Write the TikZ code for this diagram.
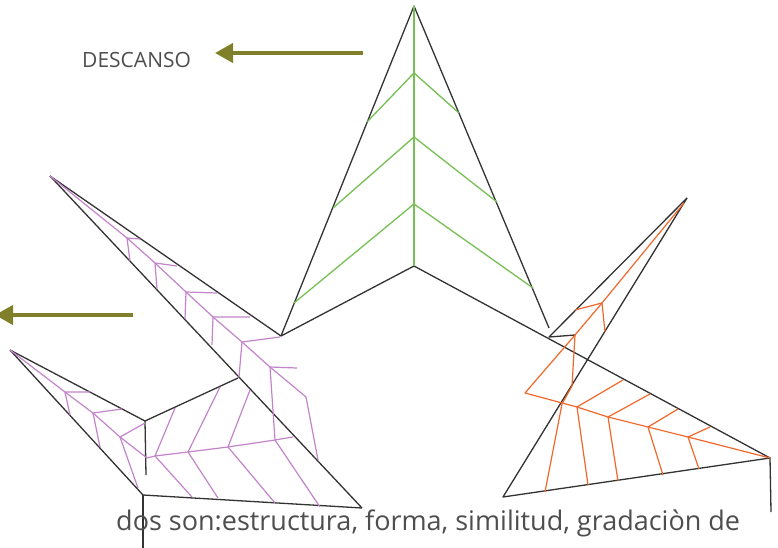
\documentclass[tikz,border=0pt]{standalone}
\usepackage{fontspec}
\setmainfont{Open Sans}
\usepackage{tikz}
\usetikzlibrary{arrows.meta}

\definecolor{olivearrow}{RGB}{128,128,42}
\definecolor{veingreen}{RGB}{118,192,84}
\definecolor{veinpurple}{RGB}{196,132,204}
\definecolor{veinorange}{RGB}{242,104,44}
\definecolor{inkgray}{RGB}{78,78,78}

\begin{document}
\begin{tikzpicture}[x=1pt, y=-1pt,
    outline/.style = {draw=black!80, line width=1.3pt, line join=round},
    gvein/.style = {draw=veingreen, line width=1.3pt, line join=round},
    pvein/.style = {draw=veinpurple, line width=1.2pt, line join=round},
    ovein/.style = {draw=veinorange, line width=1.2pt, line join=round},
    pointer/.style = {draw=olivearrow, line width=4pt, -{Triangle[length=18pt,width=19pt]}},
    words/.style = {text=inkgray, inner sep=0pt}]
    \fill[white] (0,0) rectangle (778,548);
    \useasboundingbox (0,0) rectangle (778,548);
    \clip (0,0) rectangle (778,548);

    % green leaf on top
    \coordinate (gtop) at (414,6);
    \coordinate (gleft) at (281,336);
    \coordinate (gmid) at (414,266);
    \coordinate (gright) at (549,328);
    \coordinate (oend) at (770,458);
    \draw[outline] (gleft) -- (gtop) -- (gright);
    \draw[outline] (gleft) -- (gmid) -- (oend);
    \draw[gvein] (gtop) -- (gmid);
    \foreach \y/\lx/\ly/\rx/\ry in {73/367/122/459/113, 137/333/208/497/202, 204/294/303/533/288}
        \draw[gvein] (\lx,\ly) -- (414,\y) -- (\rx,\ry);

    % purple wings on the left
    \coordinate (ptop) at (50,176);
    \coordinate (plow) at (10,350);
    \coordinate (pknee) at (145,421);
    \coordinate (pfoot) at (143,495);
    \coordinate (ptip) at (362,508);
    \draw[outline] (ptop) -- (gleft);
    \draw[outline] (ptop) -- (ptip);
    \draw[outline] (plow) -- (pknee) -- (238,378);
    \draw[outline] (plow) -- (pfoot) -- (ptip);
    \draw[outline] (pknee) -- (146,475);
    \draw[outline] (pfoot) -- (143,552);

    \draw[pvein] (ptop) -- (127,238) -- (155,263) -- (186,292) -- (213,317) -- (242,342)
        -- (270,367) -- (306,397) -- (318,460);
    \foreach \nx/\ny/\ux/\uy/\dx/\dy in {127/238/140/239/130/261, 155/263/177/266/157/289,
        186/292/217/293/185/319, 213/317/250/317/212/345, 242/342/280/337/239/377,
        270/367/297/368/275/440}
        \draw[pvein] (\ux,\uy) -- (\nx,\ny) -- (\dx,\dy);

    \draw[pvein] (plow) -- (65,392) -- (93,413) -- (120,437) -- (147,458) -- (155,456)
        -- (188,452) -- (228,447) -- (275,440) -- (293,437);
    \foreach \nx/\ny/\ux/\uy/\dx/\dy in {65/392/90/392/70/415, 93/413/122/409/100/447,
        120/437/145/423/138/488, 155/456/175/408/192/497, 188/452/220/387/218/498,
        228/447/250/390/275/503}
        \draw[pvein] (\ux,\uy) -- (\nx,\ny) -- (\dx,\dy);
    \draw[pvein] (275,440) -- (320,507);

    % orange wing on the right
    \coordinate (otop) at (687,198);
    \coordinate (onotch) at (549,337);
    \coordinate (ofoot) at (503,497);
    \draw[outline] (otop) -- (onotch) -- (575,335);
    \draw[outline] (otop) -- (ofoot) -- (oend) -- (771,512);

    \draw[ovein] (684,203) -- (602,303) -- (575,335) -- (525,393) -- (577,407) -- (608,417)
        -- (648,427) -- (688,437) -- (oend);
    \draw[ovein] (575,310) -- (602,303) -- (605,332);
    \draw[ovein] (575,335) -- (572,386) -- (562,404) -- (545,492);
    \foreach \nx/\ny/\ux/\uy/\dx/\dy in {577/407/623/380/588/485, 608/417/650/394/618/481,
        648/427/678/409/663/475, 688/437/710/427/699/469}
        \draw[ovein] (\ux,\uy) -- (\nx,\ny) -- (\dx,\dy);

    % labels and pointers
    \node[words, font=\fontsize{21}{24}\selectfont, anchor=west] (descanso) at (82,60) {DESCANSO};
    \coordinate (arrowa) at (363,53);
    \draw[pointer] (arrowa) -- (215,53);
    \coordinate (arrowb) at (133,315);
    \draw[pointer] (arrowb) -- (-5,315);

    \node[words, font=\fontsize{27}{30}\selectfont, anchor=base west] (caption) at (116,530)
        {dos son:estructura, forma, similitud, gradaciòn de};
\end{tikzpicture}
\end{document}
